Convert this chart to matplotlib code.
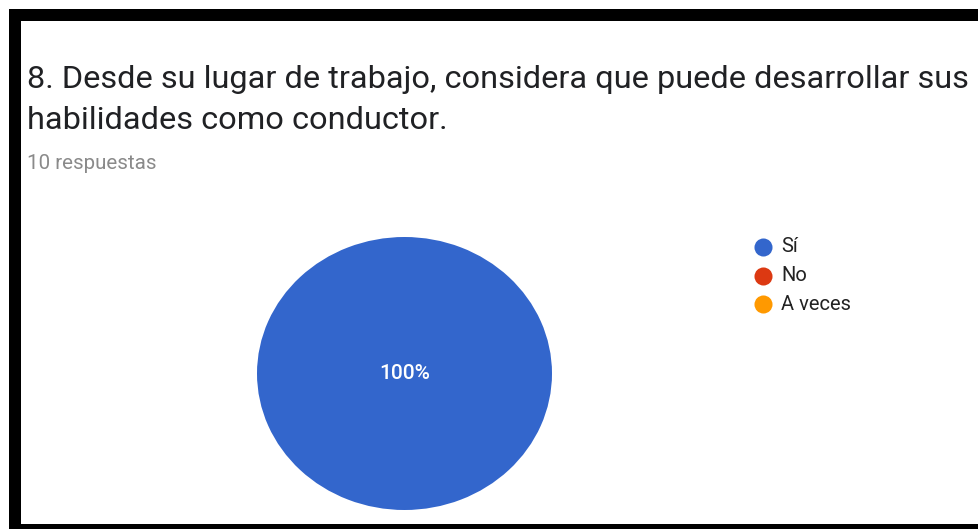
import matplotlib
matplotlib.use("Agg")
import matplotlib.pyplot as plt
from matplotlib.patches import Rectangle

# Survey answers
categories = ["Sí", "No", "A veces"]
counts = [10, 0, 0]
colors = ["#3366CC", "#DC3912", "#FF9900"]
title_lines = ["8. Desde su lugar de trabajo, considera que puede desarrollar sus",
               "habilidades como conductor."]
responses_label = "10 respuestas"

W, H = 979, 529
fig = plt.figure(figsize=(W / 100, H / 100), dpi=100)
fig.patch.set_facecolor("white")
plt.rcParams["font.family"] = ["Roboto", "DejaVu Sans"]

# Overlay in pixel units (origin top-left) for frame, headings and legend
ov = fig.add_axes([0, 0, 1, 1])
ov.set_xlim(0, W)
ov.set_ylim(H, 0)
ov.axis("off")

# Black frame around the card
for x, y, w, h in [(9, 9, W - 9, 12), (9, 9, 12, H - 9), (9, 524, W - 9, 5)]:
    ov.add_patch(Rectangle((x, y), w, h, facecolor="black", edgecolor="none"))

# Title and subtitle
ov.text(27, 88, title_lines[0], fontsize=23.4, color="#202124", va="baseline", ha="left")
ov.text(27, 129, title_lines[1], fontsize=23.4, color="#202124", va="baseline", ha="left")
ov.text(27, 169, responses_label, fontsize=14.8, color="#8a8a8a", va="baseline", ha="left")

# Legend entries
for i, (lab, c) in enumerate(zip(categories, colors)):
    y = 247 + i * 28.5
    ov.plot([763], [y], marker="o", markersize=13, color=c, markeredgewidth=0)
    ov.text(781, y, lab, fontsize=14.5, color="#222222", va="center", ha="left")

# Pie
ax = fig.add_axes([257 / W, (H - 510) / H, 295 / W, 273 / H])
total = sum(counts)
wedges, _ = ax.pie(counts, colors=colors, radius=1, startangle=90, counterclock=False,
                   wedgeprops=dict(linewidth=0))
ax.set_aspect("auto")
ax.set_xlim(-1, 1)
ax.set_ylim(-1, 1)
ax.axis("off")
for v, w in zip(counts, wedges):
    if v > 0:
        pct = 100 * v / total
        ax.text(0, 0, f"{pct:.0f}%", color="white", fontsize=15, fontweight="medium",
                ha="center", va="center")

fig.savefig("out.png", dpi=100, facecolor="white")
